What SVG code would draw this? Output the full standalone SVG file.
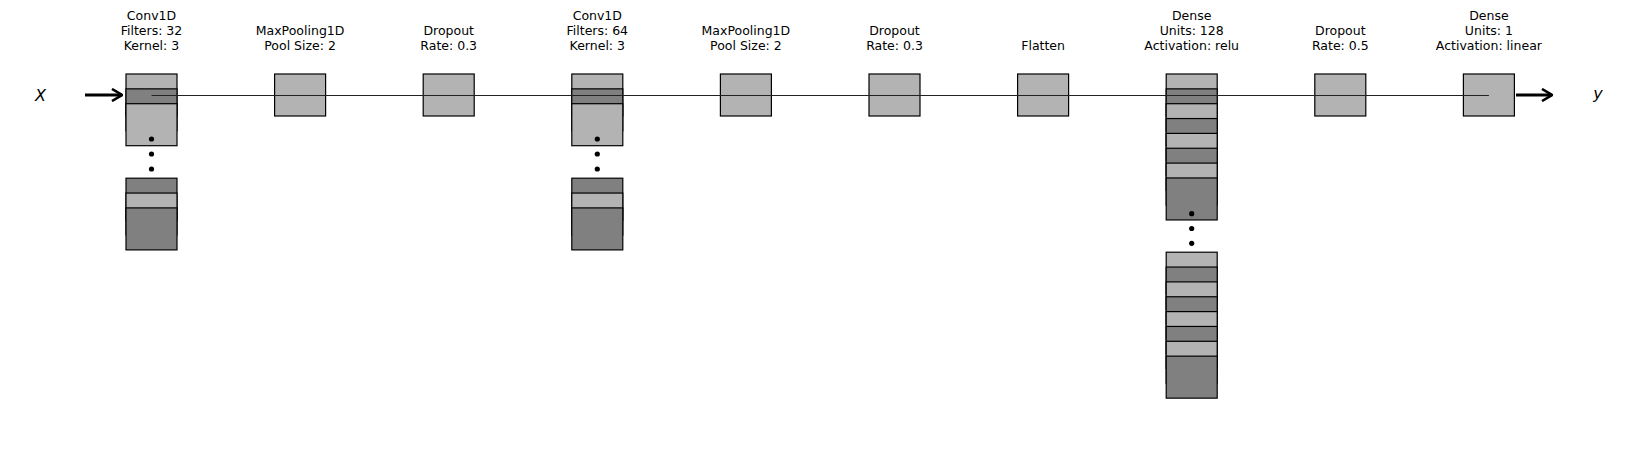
<svg xmlns="http://www.w3.org/2000/svg" width="1640" height="456" viewBox="0 0 1640 456">
<style>
.l{fill:#b3b3b3;stroke:#000;stroke-width:1.2}
.d{fill:#808080;stroke:#000;stroke-width:1.2}
.t{font-family:"DejaVu Sans",sans-serif;font-size:12.5px;fill:#000;text-anchor:middle}
.io{font-family:"DejaVu Sans",sans-serif;font-size:16px;font-style:italic;fill:#000;text-anchor:middle}
.dot{fill:#000}
</style>
<defs>
<marker id="ah" viewBox="0 0 12 14" refX="11" refY="7" markerWidth="12" markerHeight="14" markerUnits="userSpaceOnUse" orient="auto">
<path d="M1,1 L11,7 L1,13" fill="none" stroke="#000" stroke-width="2.6"/>
</marker>
</defs>
<rect width="1640" height="456" fill="#fff"/>
<g id="input">
<text class="io" x="40.5" y="101">X</text>
</g>
<g id="output">
<text class="io" x="1598" y="99">y</text>
</g>
<g id="conv1">
<text class="t" x="151.5" y="20">Conv1D</text>
<text class="t" x="151.5" y="35">Filters: 32</text>
<text class="t" x="151.5" y="50">Kernel: 3</text>
<rect class="l" x="126" y="74" width="51" height="42"/>
<rect class="d" x="126" y="88.85" width="51" height="42"/>
<rect class="l" x="126" y="103.7" width="51" height="42"/>
<circle class="dot" cx="151.5" cy="139" r="2.6"/>
<circle class="dot" cx="151.5" cy="154" r="2.6"/>
<circle class="dot" cx="151.5" cy="169" r="2.6"/>
<rect class="d" x="126" y="178.2" width="51" height="42"/>
<rect class="l" x="126" y="193.05" width="51" height="42"/>
<rect class="d" x="126" y="207.9" width="51" height="42"/>
</g>
<g id="pool1">
<text class="t" x="300.1" y="35">MaxPooling1D</text>
<text class="t" x="300.1" y="50">Pool Size: 2</text>
<rect class="l" x="274.6" y="74" width="51" height="42"/>
</g>
<g id="drop1">
<text class="t" x="448.7" y="35">Dropout</text>
<text class="t" x="448.7" y="50">Rate: 0.3</text>
<rect class="l" x="423.2" y="74" width="51" height="42"/>
</g>
<g id="conv2">
<text class="t" x="597.3" y="20">Conv1D</text>
<text class="t" x="597.3" y="35">Filters: 64</text>
<text class="t" x="597.3" y="50">Kernel: 3</text>
<rect class="l" x="571.8" y="74" width="51" height="42"/>
<rect class="d" x="571.8" y="88.85" width="51" height="42"/>
<rect class="l" x="571.8" y="103.7" width="51" height="42"/>
<circle class="dot" cx="597.3" cy="139" r="2.6"/>
<circle class="dot" cx="597.3" cy="154" r="2.6"/>
<circle class="dot" cx="597.3" cy="169" r="2.6"/>
<rect class="d" x="571.8" y="178.2" width="51" height="42"/>
<rect class="l" x="571.8" y="193.05" width="51" height="42"/>
<rect class="d" x="571.8" y="207.9" width="51" height="42"/>
</g>
<g id="pool2">
<text class="t" x="745.9" y="35">MaxPooling1D</text>
<text class="t" x="745.9" y="50">Pool Size: 2</text>
<rect class="l" x="720.4" y="74" width="51" height="42"/>
</g>
<g id="drop2">
<text class="t" x="894.5" y="35">Dropout</text>
<text class="t" x="894.5" y="50">Rate: 0.3</text>
<rect class="l" x="869" y="74" width="51" height="42"/>
</g>
<g id="flatten">
<text class="t" x="1043.1" y="50">Flatten</text>
<rect class="l" x="1017.6" y="74" width="51" height="42"/>
</g>
<g id="dense1">
<text class="t" x="1191.7" y="20">Dense</text>
<text class="t" x="1191.7" y="35">Units: 128</text>
<text class="t" x="1191.7" y="50">Activation: relu</text>
<rect class="l" x="1166.2" y="74" width="51" height="42"/>
<rect class="d" x="1166.2" y="88.85" width="51" height="42"/>
<rect class="l" x="1166.2" y="103.7" width="51" height="42"/>
<rect class="d" x="1166.2" y="118.55" width="51" height="42"/>
<rect class="l" x="1166.2" y="133.4" width="51" height="42"/>
<rect class="d" x="1166.2" y="148.25" width="51" height="42"/>
<rect class="l" x="1166.2" y="163.1" width="51" height="42"/>
<rect class="d" x="1166.2" y="177.95" width="51" height="42"/>
<circle class="dot" cx="1191.7" cy="213.7" r="2.6"/>
<circle class="dot" cx="1191.7" cy="228.5" r="2.6"/>
<circle class="dot" cx="1191.7" cy="243.3" r="2.6"/>
<rect class="l" x="1166.2" y="252.2" width="51" height="42"/>
<rect class="d" x="1166.2" y="267.05" width="51" height="42"/>
<rect class="l" x="1166.2" y="281.9" width="51" height="42"/>
<rect class="d" x="1166.2" y="296.75" width="51" height="42"/>
<rect class="l" x="1166.2" y="311.6" width="51" height="42"/>
<rect class="d" x="1166.2" y="326.45" width="51" height="42"/>
<rect class="l" x="1166.2" y="341.3" width="51" height="42"/>
<rect class="d" x="1166.2" y="356.15" width="51" height="42"/>
</g>
<g id="drop3">
<text class="t" x="1340.3" y="35">Dropout</text>
<text class="t" x="1340.3" y="50">Rate: 0.5</text>
<rect class="l" x="1314.8" y="74" width="51" height="42"/>
</g>
<g id="dense2">
<text class="t" x="1488.9" y="20">Dense</text>
<text class="t" x="1488.9" y="35">Units: 1</text>
<text class="t" x="1488.9" y="50">Activation: linear</text>
<rect class="l" x="1463.4" y="74" width="51" height="42"/>
</g>
<g id="connectors" fill="none" stroke="#000">
<line x1="151.5" y1="95.5" x2="1488.9" y2="95.5" stroke="#222" stroke-width="1.2"/>
<line x1="85" y1="95" x2="122" y2="95" stroke-width="3" marker-end="url(#ah)"/>
<line x1="1516" y1="95" x2="1552" y2="95" stroke-width="3" marker-end="url(#ah)"/>
</g>
</svg>
